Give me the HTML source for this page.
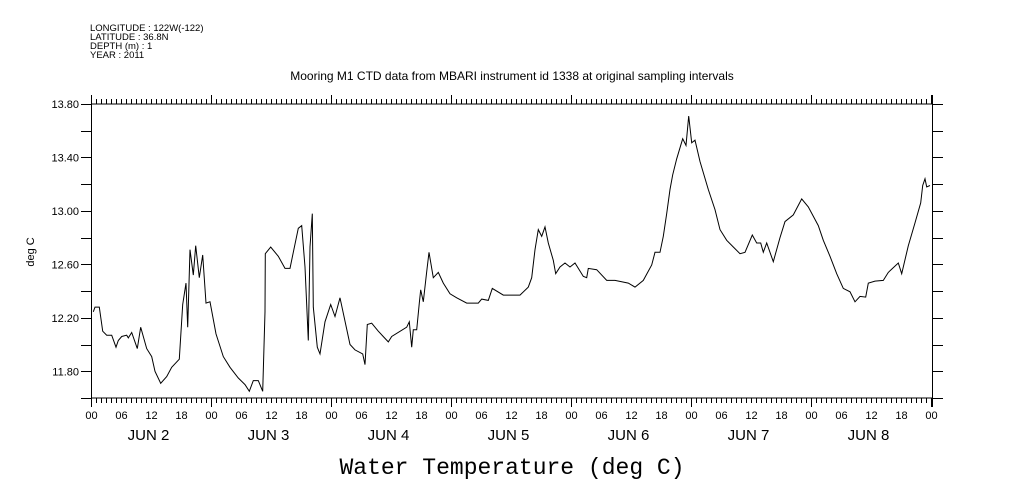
<!DOCTYPE html>
<html><head><meta charset="utf-8"><style>
body{margin:0;background:#fff;}
svg{display:block;font-family:"Liberation Sans",sans-serif;}
</style></head><body>
<svg id="chart" width="1009" height="504" viewBox="0 0 1009 504" xmlns="http://www.w3.org/2000/svg">
<rect width="1009" height="504" fill="#fff"/>
<g font-size="9.5" fill="#000">
<text x="90" y="31">LONGITUDE : 122W(-122)</text>
<text x="90" y="40">LATITUDE : 36.8N</text>
<text x="90" y="49">DEPTH (m) : 1</text>
<text x="90" y="58">YEAR : 2011</text>
</g>
<text x="512" y="80" font-size="12" text-anchor="middle">Mooring M1 CTD data from MBARI instrument id 1338 at original sampling intervals</text>
<text x="0" y="0" font-size="11" text-anchor="middle" transform="translate(34,252) rotate(-90)">deg C</text>
<text x="512" y="474" font-size="23" text-anchor="middle" font-family="Liberation Mono, monospace">Water Temperature (deg C)</text>
<g id="axes"></g>
<path id="line" fill="none" stroke="#000" stroke-width="1"/>
</svg>
<script>
const hours=[0.46,0.8,1.66,2.34,3.14,4.14,5,5.46,6.14,7.14,7.46,8.14,9.26,9.94,11.14,12.14,12.8,13.94,15.14,16.14,17.66,18.34,19,19.34,19.8,20.46,20.94,21.66,22.34,23,23.8,25,26.46,27.8,29.46,30.8,31.66,32.46,33.46,34.34,34.8,34.86,35.94,37.46,38.8,39.8,40.46,41.46,42.14,42.8,43.46,43.8,44.26,44.46,45.26,45.8,46.8,47.94,48.8,49.8,51.8,52.8,54.34,54.8,55.26,56.14,57.46,59.46,60.14,63.14,63.66,64.14,64.46,65.14,65.66,65.94,66.46,67.14,67.6,68.46,69.46,70.46,71.8,73.14,75.14,77.46,78.14,79.46,80.26,82.46,83.8,85.8,87.46,88.14,88.8,89.46,90.14,90.8,91.46,92.46,92.94,93.8,94.8,95.8,96.8,98.46,99.14,99.46,101.14,103.14,104.8,107.46,108.8,110.46,112.14,112.8,113.8,114.46,115.14,115.8,116.34,117.14,118.34,119,119.54,120.14,120.8,121.8,123.46,124.8,125.8,127.14,128.46,129.8,130.8,132.26,133.14,133.94,134.46,135.14,136.46,137.8,138.8,140.46,142.14,143.46,145.46,146.46,147.8,149.14,150.46,151.8,152.8,153.8,154.94,155.46,156.8,158.46,159.46,161.46,162.14,163.46,164.8,165.94,166.34,166.8,167.14,167.8];
const temps=[12.245,12.28,12.28,12.10,12.07,12.07,11.98,12.03,12.06,12.07,12.05,12.09,11.97,12.13,11.97,11.91,11.80,11.71,11.76,11.83,11.89,12.30,12.46,12.13,12.71,12.52,12.74,12.50,12.67,12.31,12.32,12.08,11.91,11.83,11.75,11.70,11.65,11.73,11.73,11.65,12.245,12.68,12.73,12.66,12.57,12.57,12.69,12.87,12.89,12.58,12.03,12.73,12.98,12.28,11.98,11.93,12.17,12.30,12.21,12.35,12.00,11.96,11.93,11.85,12.15,12.16,12.10,12.02,12.06,12.13,12.17,11.98,12.11,12.11,12.31,12.41,12.32,12.545,12.69,12.50,12.54,12.46,12.38,12.35,12.31,12.31,12.34,12.33,12.42,12.37,12.37,12.37,12.43,12.50,12.71,12.86,12.81,12.88,12.76,12.63,12.53,12.58,12.61,12.58,12.61,12.51,12.50,12.57,12.56,12.48,12.48,12.46,12.43,12.48,12.595,12.69,12.69,12.81,12.98,13.16,13.27,13.39,13.54,13.49,13.71,13.51,13.53,13.37,13.16,13.01,12.86,12.78,12.73,12.68,12.69,12.82,12.76,12.76,12.69,12.76,12.62,12.80,12.92,12.97,13.09,13.03,12.89,12.78,12.66,12.53,12.42,12.395,12.32,12.36,12.355,12.46,12.475,12.48,12.54,12.61,12.53,12.74,12.91,13.06,13.19,13.24,13.18,13.19];
const yTicks=[11.8,12.2,12.6,13.0,13.4,13.8];
const yTickLabels=["11.80","12.20","12.60","13.00","13.40","13.80"];
const hourLabels=["00","06","12","18"];
const dayLabels=["JUN  2","JUN  3","JUN  4","JUN  5","JUN  6","JUN  7","JUN  8"];
const X0=91,X1=933,Y0=104,Y1=398,TMIN=11.6,TMAX=13.8,HMAX=168.4;
const xs=h=>X0+h*(X1-X0)/HMAX;
const ys=v=>Y1-(v-TMIN)*(Y1-Y0)/(TMAX-TMIN);
const NS="http://www.w3.org/2000/svg";
const ax=document.getElementById('axes');
function ln(x1,y1,x2,y2,name){const l=document.createElementNS(NS,'line');
l.setAttribute('x1',x1);l.setAttribute('y1',y1);l.setAttribute('x2',x2);l.setAttribute('y2',y2);
l.setAttribute('stroke','#000');l.setAttribute('stroke-width','1');


ax.appendChild(l);}
function tx(x,y,s,size,anchor,name){const t=document.createElementNS(NS,'text');
t.setAttribute('x',x);t.setAttribute('y',y);t.setAttribute('font-size',size);t.setAttribute('text-anchor',anchor);t.textContent=s;


ax.appendChild(t);}
ln(X0,Y0,X1,Y0,'plot-frame-top');ln(X0,Y1,X1,Y1,'plot-frame-bottom');
ln(X0+.5,Y0-9,X0+.5,Y1+9,'y-axis-left');ln(X1-.5,Y0-9,X1-.5,Y1+9,'y-axis-right');
for(let h=0;h<=168;h++){const x=Math.round(xs(h))+.5;const major=h%24===0;const len=major?9:5;
ln(x,Y0,x,Y0-len,'x-tick-top');ln(x,Y1,x,Y1+len,'x-tick-bottom');
if(h%6===0) tx(x,419,hourLabels[(h/6)%4],11,'middle','x-tick-label');
if(h%24===12) tx(x-3,440,dayLabels[Math.floor(h/24)],15,'middle','x-day-label');}
for(let v=11.6;v<=13.81;v+=0.2){const y=Math.round(ys(v))+.5;ln(X0-10,y,X0,y,'y-tick-left');ln(X1,y,X1+10,y,'y-tick-right');}
yTicks.forEach((v,i)=>tx(X0-12,ys(v)+4,yTickLabels[i],11,'end','y-tick-label'));
let d='';hours.forEach((h,i)=>{d+=(i?'L':'M')+xs(h).toFixed(1)+' '+ys(temps[i]).toFixed(1);});
document.getElementById('line').setAttribute('d',d);
</script>
</body></html>
